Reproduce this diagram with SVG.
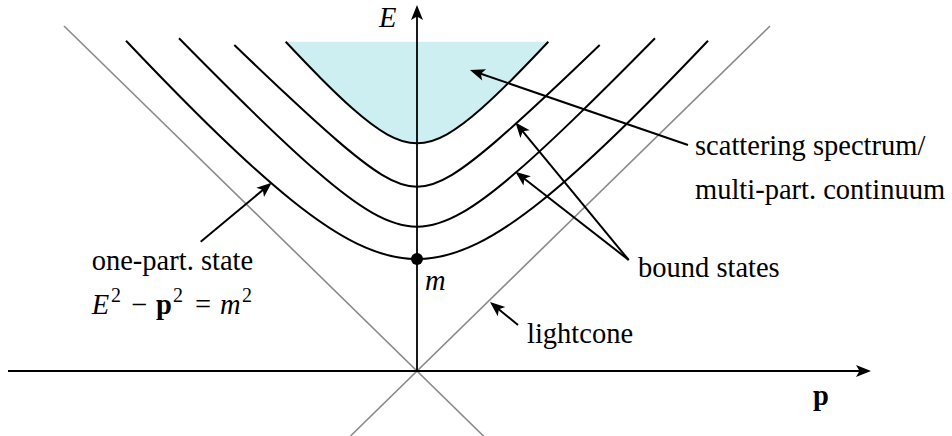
<svg xmlns="http://www.w3.org/2000/svg" width="952" height="436" viewBox="0 0 952 436">
<style>
.t{font-family:"Liberation Serif","Times New Roman",serif;font-size:28.5px;fill:#000}
.i{font-style:italic}
.b{font-weight:bold}
.s{font-size:20px}
.cone{stroke:#8a8a8a;stroke-width:1.6;fill:none}
.crv{stroke:#000;stroke-width:2;fill:none}
.ax{stroke:#000;stroke-width:1.8;fill:none}
.ar{stroke:#000;stroke-width:2;fill:none}
</style>
<defs>
<marker id="ah" markerUnits="userSpaceOnUse" markerWidth="22" markerHeight="18" viewBox="-15 -9 22 18" refX="0" refY="0" orient="auto" overflow="visible">
<path d="M3,0 L-12,-6 L-8.5,0 L-12,6 Z" fill="#000"/>
</marker>
</defs>
<rect width="952" height="436" fill="#fff"/>

<g id="scattering-region">
<path d="M285.7,41.78 C297.8,54.67 309.9,67.32 322,79.44 C332,89.46 342,99.14 352,108.02 C363.67,118.38 375.33,127.72 387,134.28 C397,139.9 407,143.3 417,143.3 C427,143.3 437,139.9 447,134.28 C458.67,127.72 470.33,118.38 482,108.02 C492,99.14 502,89.46 512,79.44 C524.1,67.32 536.2,54.67 548.3,41.78 Z" fill="#cdeff2" stroke="none"/>
</g>

<g id="lightcone">
<line class="cone" x1="64" y1="26" x2="483.5" y2="436"/>
<line class="cone" x1="770" y1="26" x2="350.5" y2="436"/>
</g>

<g id="curves">
<path id="one-particle" class="crv" d="M126,40.7 C156.33,72.62 186.67,103.87 217,133.24 C242,157.44 267,180.43 292,200.5 C313.67,217.9 335.33,233.09 357,243.65 C377,253.4 397,259 417,259 C437,259 457,253.4 477,243.65 C498.67,233.09 520.33,217.9 542,200.5 C567,180.43 592,157.44 617,133.24 C647.33,103.87 677.67,72.62 708,40.7"/>
<path id="bound-1" class="crv" d="M179,38.29 C203.33,62.99 227.67,87.43 252,111.13 C273.67,132.23 295.33,152.83 317,171.61 C335.33,187.5 353.67,202.22 372,212.71 C387,221.29 402,226.7 417,226.7 C432,226.7 447,221.29 462,212.71 C480.33,202.22 498.67,187.5 517,171.61 C538.67,152.83 560.33,132.23 582,111.13 C606.33,87.43 630.67,62.99 655,38.29"/>
<path id="bound-2" class="crv" d="M234.3,44.97 C251.87,61.86 269.43,78.62 287,95.06 C303.67,110.65 320.33,126 337,140.38 C352,153.32 367,165.69 382,174.81 C393.67,181.9 405.33,186.7 417,186.7 C428.67,186.7 440.33,181.9 452,174.81 C467,165.69 482,153.32 497,140.38 C513.67,126 530.33,110.65 547,95.06 C564.57,78.62 582.13,61.86 599.7,44.97"/>
<path id="continuum-edge" class="crv" d="M285.7,41.78 C297.8,54.67 309.9,67.32 322,79.44 C332,89.46 342,99.14 352,108.02 C363.67,118.38 375.33,127.72 387,134.28 C397,139.9 407,143.3 417,143.3 C427,143.3 437,139.9 447,134.28 C458.67,127.72 470.33,118.38 482,108.02 C492,99.14 502,89.46 512,79.44 C524.1,67.32 536.2,54.67 548.3,41.78"/>
</g>

<g id="axes">
<line class="ax" x1="417" y1="371" x2="417" y2="8" marker-end="url(#ah)"/>
<line class="ax" x1="8" y1="371" x2="868" y2="371" marker-end="url(#ah)"/>
<circle cx="417" cy="259" r="6" fill="#000"/>
</g>

<g id="connectors">
<line class="ar" x1="688" y1="145" x2="472.8" y2="71" marker-end="url(#ah)"/>
<line class="ar" x1="628.7" y1="260" x2="517.4" y2="124.8" marker-end="url(#ah)"/>
<line class="ar" x1="628.7" y1="260" x2="517.7" y2="173.5" marker-end="url(#ah)"/>
<line class="ar" x1="200.7" y1="241.7" x2="269.4" y2="184.6" marker-end="url(#ah)"/>
<line class="ar" x1="518" y1="325" x2="492.3" y2="303.9" marker-end="url(#ah)"/>
</g>

<g id="labels">
<text class="t i" x="379" y="27">E</text>
<text class="t i" x="425" y="290">m</text>
<text class="t b" x="813" y="405">p</text>
<text class="t" x="695" y="155">scattering spectrum/</text>
<text class="t" x="695" y="199">multi-part. continuum</text>
<text class="t" x="638" y="277">bound states</text>
<text class="t" x="91.7" y="270">one-part. state</text>
<text class="t" x="527" y="343">lightcone</text>
<text class="t" y="314"><tspan class="i" x="91.7">E</tspan><tspan class="s" x="111" dy="-12">2</tspan><tspan x="131" dy="12">−</tspan><tspan class="b" x="156">p</tspan><tspan class="s" x="173" dy="-12">2</tspan><tspan x="195" dy="12">=</tspan><tspan class="i" x="220">m</tspan><tspan class="s" x="242" dy="-12">2</tspan></text>
</g>
</svg>
